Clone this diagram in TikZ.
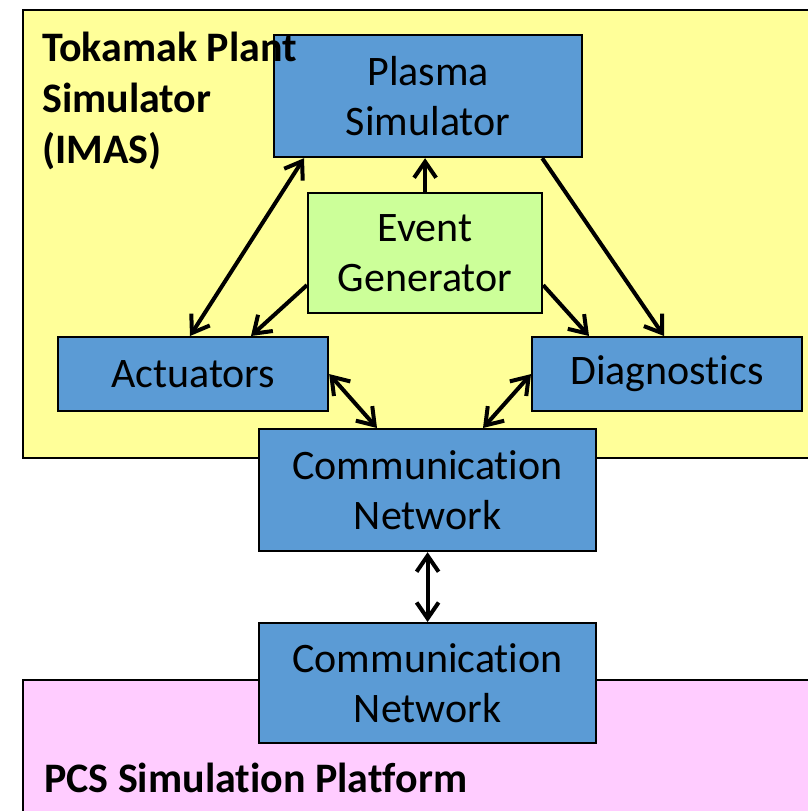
\documentclass[tikz,border=0pt]{standalone}
\usepackage{fontspec}
\setmainfont{Carlito}[RawFeature=-liga]
\usetikzlibrary{arrows.meta,calc}
\definecolor{yelbg}{HTML}{FFFF99}
\definecolor{pinkbg}{HTML}{FFCCFF}
\definecolor{boxblue}{HTML}{5B9BD5}
\definecolor{boxgreen}{HTML}{CCFF99}
\tikzset{
  region/.style={draw=black, line width=2pt},
  bluebox/.style={draw=black, line width=2.2pt, fill=boxblue, anchor=north west, inner sep=0pt, align=center, font=\fontsize{42}{50}\selectfont},
  greenbox/.style={bluebox, fill=boxgreen},
  titletext/.style={anchor=base west, inner sep=0pt, font=\fontsize{42}{50}\selectfont\bfseries},
  conn/.style={line width=4pt, draw=black},
  tip/.tip={Straight Barb[length=16pt,width=22pt]},
  one/.style={conn, -tip},
  both/.style={conn, tip-tip}
}
\begin{document}
\begin{tikzpicture}[x=1pt,y=-1pt]
\useasboundingbox (0,0) rectangle (808,811);
\clip (0,0) rectangle (808,811);
\fill[white] (0,0) rectangle (808,811);
% regions
\draw[region, fill=yelbg] (23,10) rectangle (840,458);
\draw[region, fill=pinkbg] (23,680) rectangle (840,840);
% boxes
\node[bluebox, minimum width=308pt, minimum height=122pt] (ps) at (273,34) {Plasma\\Simulator};
\node[greenbox, minimum width=234pt, minimum height=120pt] (eg) at (307,192) {Event\\Generator};
\node[bluebox, minimum width=270pt, minimum height=74pt] (act) at (57,336) {Actuators};
\node[bluebox, minimum width=270pt, minimum height=74pt] (diag) at (531,336) {Diagnostics};
\node[bluebox, minimum width=337pt, minimum height=122pt] (cn) at (258,428) {Communication\\Network};
\node[bluebox, minimum width=337pt, minimum height=120pt] (cn2) at (258,622) {Communication\\Network};
% titles
\node[titletext] (t1) at (42,61) {Tokamak Plant};
\node[titletext] (t2) at (42,112) {Simulator};
\node[titletext] (t3) at (42,163) {(IMAS)};
\node[titletext] (pcs) at (44,792) {PCS Simulation Platform};
% connectors
\draw[both] ($(ps.south west)+(31,0)$) -- ($(act.north west)+(133,0)$);
\draw[one] (eg.north) -- (eg.north |- ps.south);
\draw[one] ($(eg.west)+(0,32)$) -- ($(act.north west)+(194,0)$);
\draw[one] ($(eg.east)+(0,32)$) -- ($(diag.north west)+(58,0)$);
\draw[one] ($(ps.south east)+(-41,0)$) -- ($(diag.north west)+(133,0)$);
\draw[both] (act.east) -- ($(cn.north west)+(119,0)$);
\draw[both] (diag.west) -- ($(cn.north west)+(225,0)$);
\draw[both] (cn.south) -- (cn2.north);
\end{tikzpicture}
\end{document}
